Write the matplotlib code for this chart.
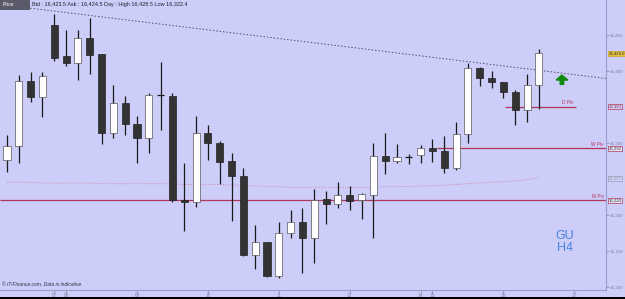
import matplotlib
matplotlib.use("Agg")
import matplotlib.pyplot as plt
import matplotlib.transforms as mtransforms
from matplotlib.patches import Rectangle, FancyArrow

plt.rcParams["font.family"] = ["Liberation Sans", "DejaVu Sans"]

# ---- data (H4 candles) ----
opens  = [16276, 16295, 16386, 16363.5, 16463.5, 16420, 16411, 16445, 16423, 16313.5,
          16355, 16326, 16306.5, 16366, 16365, 16220, 16217.5, 16313.5, 16299.5, 16274.5,
          16253.5, 16144, 16162, 16115, 16174.5, 16190, 16167.5, 16222, 16215, 16227.5,
          16220.5, 16227.5, 16281.5, 16274.5, 16280, 16283, 16292.5, 16288.5, 16265, 16312,
          16404, 16390, 16384.5, 16370.5, 16345.5, 16380]
highs  = [16310.7, 16394, 16398, 16398, 16479, 16456.5, 16456.5, 16473, 16423.5, 16380,
          16365, 16337, 16369, 16412, 16369, 16272, 16337, 16324.5, 16302.5, 16285.5,
          16265, 16185.5, 16162.5, 16190, 16206.5, 16209.5, 16235.5, 16233, 16245.5, 16240,
          16230, 16299.5, 16313.5, 16298, 16284.5, 16297, 16305, 16309, 16329, 16410.5,
          16405, 16399.5, 16384.5, 16373, 16395.5, 16430]
lows   = [16259, 16272, 16356.5, 16335.5, 16413.5, 16406.5, 16387, 16395.5, 16298, 16306.5,
          16310.5, 16272, 16285.5, 16317.5, 16217.5, 16177.5, 16210.5, 16276, 16242.5, 16191.5,
          16142, 16124.5, 16114, 16112, 16167.5, 16119, 16133, 16187, 16209.5, 16206.5,
          16194, 16167.5, 16256.5, 16272, 16270.5, 16272, 16273, 16258, 16262, 16299.5,
          16379, 16376, 16362, 16324.5, 16329, 16347]
closes = [16295, 16386, 16363.5, 16392.5, 16417.5, 16411, 16445, 16422, 16313.5, 16355,
          16326, 16306.5, 16366, 16366, 16220, 16217.5, 16313.5, 16299.5, 16273, 16253.5,
          16144, 16162, 16115, 16174.5, 16190, 16167.5, 16220.5, 16215, 16227.5, 16219,
          16229, 16281.5, 16274.5, 16280, 16280, 16292.5, 16288.5, 16265, 16312, 16404,
          16390, 16384.5, 16370.5, 16345.5, 16380, 16424.5]
ma_values = [16245, 16245, 16245, 16244, 16244, 16244, 16244, 16244, 16243, 16243,
             16243, 16243, 16243, 16243, 16243, 16242, 16242, 16242, 16242, 16241,
             16241, 16240, 16239, 16239, 16238, 16238, 16238, 16238, 16238, 16238,
             16238, 16238, 16239, 16239, 16239, 16240, 16240, 16241, 16242, 16243,
             16244, 16245, 16246, 16247, 16249, 16251]

tick_positions = [4, 5, 11, 17, 23, 29, 35, 36, 42, 48]
tick_labels = ["07", "08", "09", "10", "11", "12", "14", "15", "16", "17"]
price_ticks = [16100, 16150, 16200, 16300, 16400, 16450]

pivot_names = ["D Piv", "W Piv", "M Piv"]
pivot_values = [16350, 16292, 16220]
pivot_starts = [42.1, 36.4, -0.6]
pivot_ends = [48.1, 50.7, 50.7]

trend_x = [-0.59, 50.68]
trend_y = [16492.0, 16389.2]

last_price = 16424.0
ma_last = 16250

BG = "#cdcdfa"
PIV = "#b03658"

fig = plt.figure(figsize=(6.25, 2.99), dpi=100, facecolor=BG)
ax = fig.add_axes([0.0, 0.0301, 0.9696, 0.9699])
ax.set_facecolor(BG)
ax.set_xlim(-0.592, 50.68)
ax.set_ylim(16095.4, 16498.2)

# moving average and trend line
ax.plot(range(len(ma_values)), ma_values, color="#c898b4", lw=0.7, ls=(0, (1.5, 1.5)), zorder=1)
ax.plot(trend_x, trend_y, color="#505060", lw=0.7, ls=(0, (1.5, 2)), zorder=1)

# pivots
for name, v, s, e in zip(pivot_names, pivot_values, pivot_starts, pivot_ends):
    ax.hlines(v, s, e, color=PIV, lw=0.9, zorder=2)
    ax.text(e - 0.2, v + 2, name, fontsize=3.4, color=PIV, ha="right", va="bottom", zorder=5)

# candles
w = 0.6
for i, (o, h, l, c) in enumerate(zip(opens, highs, lows, closes)):
    up = c >= o
    ax.vlines(i, l, h, color="#1a1a1a", lw=0.9, zorder=3)
    if abs(c - o) < 1:
        ax.hlines(o, i - w / 2, i + w / 2, color="#1a1a1a", lw=0.9, zorder=4)
    else:
        ax.bar(i, c - o, bottom=o, width=w,
               color="#ffffff" if up else "#333333",
               edgecolor="#555555" if up else "#222222", linewidth=0.5, zorder=4)

# green arrow signal
ax.add_patch(FancyArrow(46.95, 16381, 0, 13, width=0.3, head_width=1.0, head_length=7,
                        length_includes_head=True, color="#108a10", zorder=5))

# axes styling
for sp in ["top", "left"]:
    ax.spines[sp].set_visible(False)
for sp in ["bottom", "right"]:
    ax.spines[sp].set_color("#9c9cd0")
    ax.spines[sp].set_linewidth(0.8)
ax.yaxis.tick_right()
ax.set_yticks(price_ticks)
ax.set_yticklabels([f"{v:,}" for v in price_ticks])
ax.tick_params(axis="y", length=2, width=0.5, colors="#8080a8", labelsize=3.2, pad=0.8)
ax.set_xticks(tick_positions)
ax.set_xticklabels(tick_labels)
ax.tick_params(axis="x", length=2, width=0.5, colors="#8080a8", labelsize=3.4, pad=0.5)

trans = mtransforms.blended_transform_factory(ax.transAxes, ax.transData)
def box(v, txt, fc, ec, tc):
    ax.text(1.004, v, txt, transform=trans, fontsize=3.1, color=tc, ha="left", va="center",
            bbox=dict(boxstyle="square,pad=0.12", fc=fc, ec=ec, lw=0.5), zorder=6, clip_on=False)

box(last_price, f"{last_price:,.1f}", "#e8c440", "#c8a020", "#202020")
box(pivot_values[0], f"{pivot_values[0]:,}", "#d8d0f4", PIV, "#703050")
box(pivot_values[1], f"{pivot_values[1]:,}", "#e8e4f8", PIV, "#303030")
box(ma_last, f"{ma_last:,}", "#d4d4f4", "#9898b8", "#9090b0")
box(pivot_values[2], f"{pivot_values[2]:,}", "#e8e4f8", PIV, "#303030")

# header
ax.add_patch(Rectangle((0, 0.967), 0.05, 0.033, transform=ax.transAxes, fc="#5a5a6a", ec="none",
                       zorder=6, clip_on=False))
ax.text(0.004, 0.984, "Price", transform=ax.transAxes, fontsize=3.6, color="white",
        va="center", ha="left", zorder=7)
ax.text(0.053, 0.984, "Bid : 16,423.5 Ask : 16,424.5 Day : High 16,428.5 Low 16,322.4",
        transform=ax.transAxes, fontsize=4.0, color="#202030", va="center", ha="left", zorder=7)

# footer
ax.text(0.003, 0.012, "\u00a9 IT-Finance.com. Data is indicative", transform=ax.transAxes,
        fontsize=3.6, style="italic", color="#303040", va="bottom", ha="left")

# instrument label
ax.text(0.932, 0.165, "GU\nH4", transform=ax.transAxes, fontsize=9, color="#4a82d8",
        va="center", ha="center", linespacing=0.95)

# bottom black strip
fig.patches.append(Rectangle((0, 0), 1, 2 / 299, transform=fig.transFigure, fc="black", ec="none"))

fig.savefig("out.png", dpi=100, facecolor=BG)
